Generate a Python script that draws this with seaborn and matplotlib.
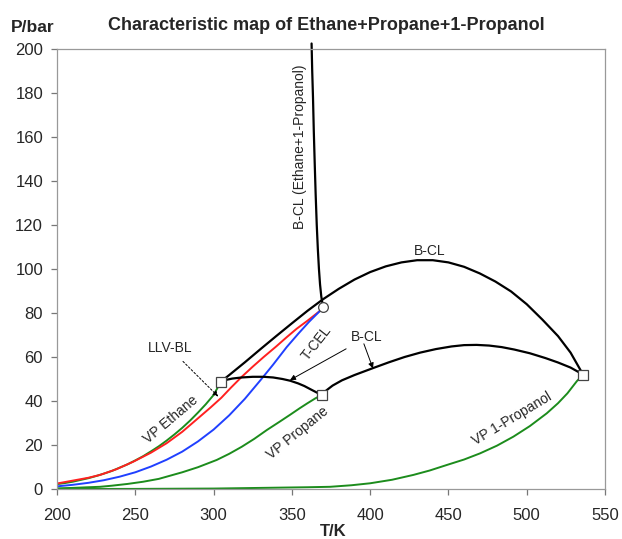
import matplotlib
matplotlib.use("Agg")
import matplotlib.pyplot as plt
import seaborn as sns

# Vapour pressure curves of the pure components (T in K, P in bar)
vp_ethane_T = [200, 205, 210, 215, 220, 225, 230, 235, 240, 245, 250, 255, 260, 265, 270,
               275, 280, 285, 290, 295, 300, 304.7]
vp_ethane_P = [2.2, 2.7, 3.3, 4.1, 4.9, 5.9, 7.0, 8.2, 9.7, 11.2, 13.0, 14.9, 17.1, 19.4, 22.0,
               24.8, 27.8, 31.1, 34.7, 38.5, 42.7, 48.8]

vp_propane_T = [200, 210, 220, 227.5, 235, 245, 255, 265, 270, 280, 290, 302, 310, 318, 326,
                334, 342, 349, 355, 360, 365, 369]
vp_propane_P = [0.3, 0.5, 0.8, 1.0, 1.5, 2.3, 3.3, 4.6, 5.6, 7.6, 9.9, 13.2, 16.0, 19.2, 22.8,
                26.8, 30.5, 33.8, 36.7, 39.0, 41.2, 42.7]

vp_propanol_T = [200, 250, 300, 340, 360, 374.4, 388, 400, 414, 427.6, 438, 448.9, 460, 470.2,
                 481, 491.5, 502, 512.8, 520, 526, 532, 536]
vp_propanol_P = [0.0, 0.05, 0.2, 0.6, 0.8, 1.0, 1.7, 2.6, 4.2, 6.4, 8.4, 10.9, 13.4, 16.2,
                 19.7, 23.8, 28.6, 34.4, 39.0, 43.5, 49.0, 52.0]

# three-phase lines (red: LLV-BL, blue: lower branch ending at the T-CEL)
red_T = [200, 210, 220, 227.5, 238, 248.7, 260, 270, 280, 291.3, 298, 305, 311, 318, 325,
         332, 340, 346.7, 353, 360, 365, 368]
red_P = [2.5, 3.8, 5.1, 6.4, 9.0, 12.4, 16.5, 20.8, 26.0, 32.9, 37.0, 41.5, 46.0, 51.0, 55.6,
         60.0, 64.8, 69.0, 72.8, 76.5, 79.3, 81.0]

blue_T = [200, 210, 220, 230, 240, 250, 260, 270, 280, 290, 300, 310, 320, 330, 338, 346.7,
          354, 361, 368]
blue_P = [1.2, 1.9, 2.8, 4.0, 5.6, 7.6, 10.2, 13.3, 17.0, 21.6, 27.0, 33.5, 41.0, 49.5, 56.5,
          64.5, 70.5, 76.0, 81.0]

# critical lines
bcl_upper_T = [304.7, 310, 320, 330, 340, 350, 360, 370, 380, 390, 400, 410, 420, 430, 440,
               450, 460, 470, 480, 490, 500, 510, 520, 528, 536]
bcl_upper_P = [48.8, 51.8, 57.6, 63.6, 69.5, 75.3, 81.0, 86.3, 91.0, 95.2, 98.6, 101.2, 103.0,
               104.0, 104.0, 103.0, 101.0, 98.0, 94.3, 89.8, 84.0, 77.0, 69.5, 62.0, 52.0]

bcl_lower_T = [369, 372, 376, 382, 390, 402, 412, 422, 432, 442, 452, 460, 468, 476, 484, 492,
               502, 512, 520, 528, 536]
bcl_lower_P = [42.7, 44.8, 47.0, 49.4, 51.8, 55.0, 57.6, 60.0, 62.0, 63.6, 64.8, 65.4, 65.5,
               65.2, 64.5, 63.4, 61.7, 59.5, 57.5, 55.2, 52.0]

bcl_mid_T = [304.7, 308, 312, 318, 325, 332, 338, 344, 349, 354, 358, 362, 365.5, 369]
bcl_mid_P = [48.8, 49.6, 50.2, 50.7, 51.0, 51.0, 50.7, 50.0, 49.2, 48.0, 46.8, 45.3, 44.0, 42.7]

bcl_steep_T = [362.6, 363.0, 363.5, 364.0, 364.6, 365.2, 365.9, 366.6, 367.3, 368.0, 368.8,
               369.5, 370]
bcl_steep_P = [202.5, 190, 178, 163, 148, 134, 120, 109, 100, 93, 87.5, 84.5, 82.9]

crit_sq_T = [304.7, 369, 536]
crit_sq_P = [48.8, 42.7, 52.0]
cep_T = [370]
cep_P = [82.9]

sns.set_style("white")
plt.rcParams["font.family"] = ["Liberation Sans", "DejaVu Sans"]

fig = plt.figure(figsize=(6.22, 5.39), dpi=100)
ax = fig.add_axes([57 / 622, 50 / 539, 548 / 622, 440 / 539])

green = "#1c8c1c"
for T, P in [(vp_ethane_T, vp_ethane_P), (vp_propane_T, vp_propane_P), (vp_propanol_T, vp_propanol_P)]:
    sns.lineplot(x=T, y=P, ax=ax, color=green, lw=1.4, sort=False, estimator=None)
sns.lineplot(x=red_T, y=red_P, ax=ax, color="#ff2020", lw=1.4, sort=False, estimator=None)
sns.lineplot(x=blue_T, y=blue_P, ax=ax, color="#2040ff", lw=1.4, sort=False, estimator=None)
for T, P in [(bcl_upper_T, bcl_upper_P), (bcl_lower_T, bcl_lower_P), (bcl_mid_T, bcl_mid_P)]:
    sns.lineplot(x=T, y=P, ax=ax, color="black", lw=1.6, sort=False, estimator=None)
ax.plot(bcl_steep_T, bcl_steep_P, color="black", lw=1.6, clip_on=False)

ax.plot(crit_sq_T, crit_sq_P, ls="none", marker="s", ms=7, mfc="white", mec="#444444", mew=0.9, zorder=5)
ax.plot(cep_T, cep_P, ls="none", marker="o", ms=7, mfc="white", mec="#444444", mew=0.9, zorder=5)

ax.set_xlim(200, 550)
ax.set_ylim(0, 200)
ax.set_xticks(range(200, 551, 50))
ax.set_yticks(range(0, 201, 20))
for s in ax.spines.values():
    s.set_color("#999999")
    s.set_linewidth(0.9)
ax.tick_params(axis="both", direction="out", length=4, width=0.9, color="#777777", labelsize=12)
ax.tick_params(axis="x", pad=10, bottom=True)
ax.tick_params(axis="y", pad=6, left=True)
ax.set_xlabel("")
ax.set_ylabel("")

fig.text(326 / 622, 1 - 26 / 539, "Characteristic map of Ethane+Propane+1-Propanol",
         ha="center", va="center", fontsize=13, fontweight="bold")
fig.text(33 / 622, 1 - 27 / 539, "P/bar", ha="center", va="center", fontsize=12.5, fontweight="bold")
fig.text(333 / 622, 1 - 531 / 539, "T/K", ha="center", va="center", fontsize=12, fontweight="bold")

fs = 10
ax.text(273, 31.4, "VP Ethane", rotation=40, ha="center", va="center", fontsize=fs)
ax.text(354, 25.3, "VP Propane", rotation=39, ha="center", va="center", fontsize=fs)
ax.text(490.4, 32.1, "VP 1-Propanol", rotation=31, ha="center", va="center", fontsize=fs)
ax.text(366, 66.5, "T-CEL", rotation=52, ha="center", va="center", fontsize=fs)
ax.text(438, 108.3, "B-CL", ha="center", va="center", fontsize=fs)
ax.text(355.2, 155.6, "B-CL (Ethane+1-Propanol)", rotation=90, ha="center", va="center", fontsize=fs)

ax.annotate("LLV-BL", xy=(303, 42), xytext=(272, 64), ha="center", va="center", fontsize=fs,
            arrowprops=dict(arrowstyle="-|>", ls=(0, (2, 2)), color="black", lw=0.7,
                            mutation_scale=8, shrinkA=3, shrinkB=0))
ax.annotate("B-CL", xy=(348.8, 49.5), xytext=(398, 69), ha="center", va="center", fontsize=fs,
            arrowprops=dict(arrowstyle="-|>", color="black", lw=0.7, mutation_scale=8,
                            shrinkA=2, shrinkB=0))
ax.annotate("", xy=(401.8, 54.8), xytext=(396, 66),
            arrowprops=dict(arrowstyle="-|>", color="black", lw=0.7, mutation_scale=8,
                            shrinkA=0, shrinkB=0))

fig.savefig("out.png", dpi=100)
